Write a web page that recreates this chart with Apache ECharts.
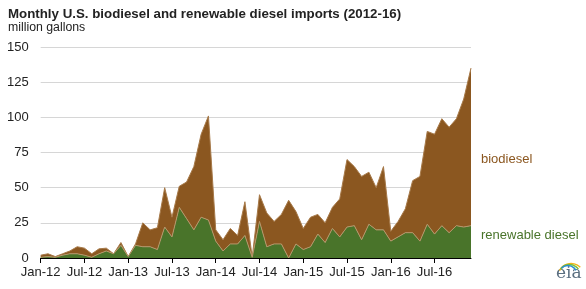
<!DOCTYPE html>
<html>
<head>
<meta charset="utf-8">
<script src="https://cdn.jsdelivr.net/npm/echarts@6/dist/echarts.min.js"></script>
<style>
  html, body { margin: 0; padding: 0; background: #fff; }
  #chart { width: 586px; height: 289px; }
</style>
</head>
<body>
<div id="chart"></div>
<script>
// monthly, Jan-2012 .. Dec-2016
const monthNames = ['Jan', 'Feb', 'Mar', 'Apr', 'May', 'Jun', 'Jul', 'Aug', 'Sep', 'Oct', 'Nov', 'Dec'];
const years = ['12', '13', '14', '15', '16'];
const months = [];
years.forEach(y => monthNames.forEach(m => months.push(m + '-' + y)));

// million gallons
const renewableDiesel = [
  0.5, 1, 0.5, 2, 3, 3, 2, 0.5, 3, 5, 3, 9,
  1, 9, 8, 8, 6, 22, 15, 36, 28, 20, 29, 27,
  12, 5, 10, 10, 16, 0.5, 26, 8, 10, 10, 0, 10,
  6, 8, 17, 11, 21, 15, 22, 23, 13, 24, 20, 20,
  12, 15, 18, 18, 12, 24, 17, 23, 18, 23, 22, 23
];
const totalImports = [
  2, 3, 1, 3, 5, 8, 7, 3, 6.5, 7, 3, 11,
  1, 10, 25, 20, 21.5, 50, 29, 51, 54, 65, 88, 101,
  20, 13, 21, 16, 40, 0.5, 45, 32, 26, 31, 41, 33,
  21, 29, 31, 25, 36, 42, 70, 65, 58, 61, 50, 65,
  19, 26, 35, 55, 58, 90, 88, 99, 93, 99, 113, 135
];
const biodiesel = totalImports.map((t, i) => Math.max(0, +(t - renewableDiesel[i]).toFixed(1)));

const yTicks = [0, 25, 50, 75, 100, 125, 150];

const chart = echarts.init(document.getElementById('chart'));

const option = {
  animation: false,
  title: {
    text: 'Monthly U.S. biodiesel and renewable diesel imports (2012-16)',
    subtext: 'million gallons',
    left: 3,
    top: 3,
    itemGap: 1,
    textStyle: { fontFamily: 'Liberation Sans, Arial', fontSize: 13.3, fontWeight: 'bold', color: '#222' },
    subtextStyle: { fontFamily: 'Liberation Sans, Arial', fontSize: 12.3, color: '#222' }
  },
  grid: { left: 40.7, right: 115, top: 47, bottom: 31 },
  xAxis: {
    type: 'category',
    data: months,
    boundaryGap: false,
    axisLine: { lineStyle: { color: '#000', width: 1 } },
    axisTick: { interval: 5, length: 5, lineStyle: { color: '#000' } },
    axisLabel: {
      interval: 5,
      margin: 8,
      fontFamily: 'Liberation Sans, Arial',
      fontSize: 13,
      color: '#222'
    }
  },
  yAxis: {
    type: 'value',
    min: yTicks[0],
    max: yTicks[yTicks.length - 1],
    interval: 25,
    axisLine: { show: false },
    axisTick: { show: false },
    splitLine: { lineStyle: { color: '#d6d6d6', width: 1 } },
    axisLabel: {
      margin: 12,
      fontFamily: 'Liberation Sans, Arial',
      fontSize: 13,
      color: '#222'
    }
  },
  series: [
    {
      name: 'renewable diesel',
      type: 'line',
      stack: 'imports',
      data: renewableDiesel,
      symbol: 'none',
      lineStyle: { color: '#b7956a', width: 1 },
      areaStyle: { color: '#49742a', opacity: 1 },
      z: 3
    },
    {
      name: 'biodiesel',
      type: 'line',
      stack: 'imports',
      data: biodiesel,
      symbol: 'none',
      lineStyle: { color: '#a77a4a', width: 1 },
      areaStyle: { color: '#8b5720', opacity: 1 },
      z: 2
    }
  ],
  graphic: [
    {
      type: 'text', left: 481, top: 153,
      style: { text: 'biodiesel', fill: '#8b5720', fontSize: 13, fontFamily: 'Liberation Sans, Arial' }
    },
    {
      type: 'text', left: 481, top: 229,
      style: { text: 'renewable diesel', fill: '#49742a', fontSize: 13, fontFamily: 'Liberation Sans, Arial' }
    },
    {
      type: 'text', left: 556, top: 265,
      style: { text: 'eia', fill: '#5b6f80', fontSize: 17, fontFamily: 'DejaVu Serif, serif' }
    },
    {
      type: 'arc', left: 557, top: 261,
      shape: { cx: 15, cy: 16, r: 13, startAngle: Math.PI * 1.15, endAngle: Math.PI * 1.75 },
      style: { stroke: '#f2b51a', lineWidth: 1.5, fill: null }
    },
    {
      type: 'arc', left: 558, top: 262,
      shape: { cx: 15, cy: 16, r: 11, startAngle: Math.PI * 1.2, endAngle: Math.PI * 1.8 },
      style: { stroke: '#7bbf3a', lineWidth: 1.5, fill: null }
    },
    {
      type: 'arc', left: 559, top: 263,
      shape: { cx: 15, cy: 16, r: 9, startAngle: Math.PI * 1.25, endAngle: Math.PI * 1.85 },
      style: { stroke: '#2a8fd0', lineWidth: 1.5, fill: null }
    }
  ]
};

chart.setOption(option);
</script>
</body>
</html>
